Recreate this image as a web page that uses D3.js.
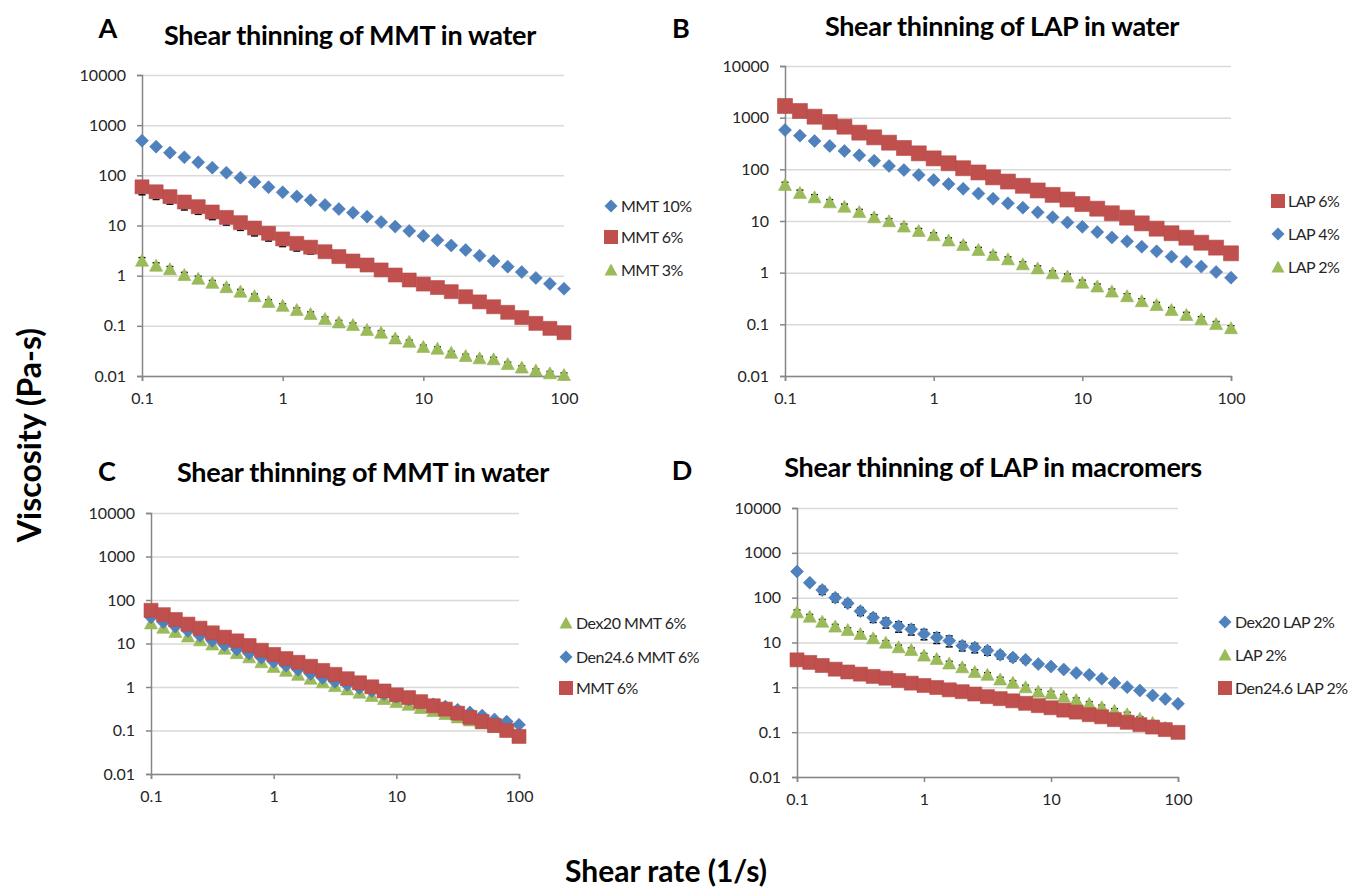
<!DOCTYPE html>
<html>
<head>
<meta charset="utf-8">
<script src="https://cdn.jsdelivr.net/npm/d3@7"></script>
<style>
  body { margin: 0; background: #fff; }
  text { font-family: Lato, "Open Sans", sans-serif; }
</style>
</head>
<body>
<div class="container"></div>
<script>
var w = 1356;
var h = 887;

// shear rate (1/s), 10 points per decade
const shear = [0.1, 0.126, 0.158, 0.2, 0.251, 0.316, 0.398, 0.501, 0.631, 0.794,
  1, 1.26, 1.58, 2, 2.51, 3.16, 3.98, 5.01, 6.31, 7.94,
  10, 12.6, 15.8, 20, 25.1, 31.6, 39.8, 50.1, 63.1, 79.4, 100];

// panel A
const mmt10 = [491, 373, 283, 229, 182, 142, 113, 90, 74, 58, 46, 38, 32, 25.6, 21.3, 18, 15, 11.7, 9.5, 7.8,
  6.2, 5.1, 4.0, 3.25, 2.5, 1.96, 1.51, 1.18, 0.9, 0.69, 0.55];
const mmt6A = [59, 47, 37.6, 29.4, 23.7, 18.6, 14.5, 11.4, 8.9, 7.0, 5.4, 4.4, 3.7, 3.0, 2.4, 1.96, 1.63, 1.3, 1.03, 0.82,
  0.68, 0.58, 0.48, 0.38, 0.3, 0.24, 0.186, 0.146, 0.112, 0.089, 0.073];
const mmt6AErr = [18, 14, 11, 9, 7, 5.5, 4.3, 3.4, 2.7, 2.1, 1.6, 1.3, 1.0, 0.5, 0.35, 0.25, 0.2, 0.15, 0.12, 0.1,
  0.08, 0.06, 0.05, 0.04, 0.03, 0.025, 0.02, 0.015, 0.012, 0.01, 0.008];
const mmt3 = [1.99, 1.58, 1.34, 1.03, 0.87, 0.72, 0.59, 0.48, 0.39, 0.3, 0.25, 0.207, 0.172, 0.137, 0.117, 0.104, 0.083, 0.073, 0.056, 0.048,
  0.038, 0.035, 0.029, 0.025, 0.0225, 0.0215, 0.0173, 0.0147, 0.0128, 0.0113, 0.0105];
const mmt3Err = [0.3, 0.22, 0.18, 0.13, 0.1, 0.08, 0.06, 0.05, 0.04, 0.03, 0.025, 0.02, 0.017, 0.013, 0.011, 0.01, 0.008, 0.007, 0.005, 0.004,
  0.003, 0.003, 0.002, 0.002, 0.002, 0.002, 0.0015, 0.0012, 0.001, 0.001, 0.001];

// panel B
const lap6 = [1683, 1346, 1045, 824, 669, 513, 416, 328, 259, 204, 163, 131, 105, 87, 70, 58, 48, 39, 32, 26,
  21.3, 17.3, 14.1, 11.6, 9.0, 7.1, 5.8, 4.75, 3.8, 3.05, 2.37];
const lap4 = [577, 449, 354, 283, 227, 187, 147, 116, 97, 78, 62, 52, 42, 34, 27, 22, 18.1, 14.7, 11.8, 9.4,
  7.7, 6.1, 4.8, 4.04, 3.18, 2.59, 2.04, 1.63, 1.31, 1.03, 0.8];
const lap2B = [50, 35, 28.7, 23, 18.9, 14.9, 11.8, 9.9, 7.8, 6.4, 5.3, 4.2, 3.43, 2.75, 2.2, 1.81, 1.45, 1.21, 0.97, 0.84,
  0.64, 0.54, 0.43, 0.35, 0.28, 0.237, 0.189, 0.152, 0.125, 0.101, 0.084];
const lap2BErr = [6, 4.5, 3.6, 2.9, 2.3, 1.8, 1.4, 1.2, 0.9, 0.75, 0.6, 0.5, 0.4, 0.32, 0.26, 0.21, 0.17, 0.14, 0.11, 0.1,
  0.075, 0.063, 0.05, 0.04, 0.033, 0.028, 0.022, 0.018, 0.015, 0.012, 0.01];

// panel C
const dex20Mmt6 = [29, 23, 18.5, 14.5, 11.8, 9.5, 7.6, 6.0, 4.8, 3.7, 2.9, 2.35, 1.9, 1.55, 1.28, 1.05, 0.88, 0.74, 0.62, 0.53,
  0.45, 0.39, 0.33, 0.28, 0.24, 0.2, 0.17, 0.145, 0.12, 0.1, 0.085];
const den246Mmt6 = [40, 31, 24.5, 19.5, 15, 11.5, 9.2, 7.3, 5.9, 4.7, 3.8, 3.1, 2.5, 2.0, 1.62, 1.32, 1.12, 0.95, 0.81, 0.69,
  0.6, 0.52, 0.46, 0.4, 0.355, 0.3, 0.26, 0.22, 0.18, 0.16, 0.135];
const mmt6C = [58, 46, 35.6, 27.9, 22.5, 17.6, 14, 11.5, 9.0, 7.0, 5.6, 4.5, 3.7, 3.0, 2.4, 1.95, 1.55, 1.25, 1.01, 0.81,
  0.66, 0.57, 0.46, 0.37, 0.31, 0.25, 0.2, 0.16, 0.13, 0.1, 0.073];

// panel D
const dex20Lap2 = [382, 216, 148, 100, 75, 50, 36, 28, 23, 19.7, 15.5, 13, 11, 8.5, 7.7, 6.6, 5.3, 4.6, 4.1, 3.3,
  2.9, 2.5, 2.1, 1.9, 1.56, 1.25, 1.01, 0.85, 0.66, 0.55, 0.43];
const dex20Lap2Err = [20, 25, 30, 20, 14, 10, 8, 7, 6, 5, 4, 3.5, 3, 2, 1.8, 1.4, 1, 0.8, 0.6, 0.4,
  0.3, 0.25, 0.2, 0.15, 0.12, 0.1, 0.08, 0.06, 0.05, 0.04, 0.03];
const lap2D = [47, 37.7, 29, 22.6, 19, 15.5, 12.4, 9.9, 7.8, 6.8, 5.1, 4.3, 3.4, 2.8, 2.2, 1.9, 1.5, 1.27, 1.0, 0.8,
  0.73, 0.62, 0.52, 0.43, 0.36, 0.3, 0.25, 0.2, 0.16, 0.125, 0.096];
const lap2DErr = [6, 4.5, 3.5, 2.7, 2.2, 1.8, 1.4, 1.1, 0.9, 0.75, 0.6, 0.5, 0.4, 0.32, 0.26, 0.22, 0.17, 0.14, 0.11, 0.09,
  0.08, 0.07, 0.06, 0.05, 0.04, 0.033, 0.027, 0.022, 0.018, 0.014, 0.011];
const den246Lap2 = [4.1, 3.6, 3.07, 2.54, 2.2, 1.97, 1.75, 1.6, 1.42, 1.24, 1.1, 0.99, 0.88, 0.8, 0.71, 0.62, 0.56, 0.5, 0.44, 0.39,
  0.35, 0.31, 0.28, 0.245, 0.22, 0.19, 0.166, 0.147, 0.13, 0.114, 0.099];

const yTicks = [0.01, 0.1, 1, 10, 100, 1000, 10000];
const xTicks = [0.1, 1, 10, 100];

const blue = "#4f81bd", red = "#c0504d", green = "#9bbb59";

const panels = [
  { letter: "A", title: "Shear thinning of MMT in water",
    x0: 142, x1: 564, yTop: 75, yBot: 376, lx: 108, ly: 38, tx: 350, ty: 45, legX: 611, legY: [206, 237, 270],
    series: [
      { name: "MMT 10%", values: mmt10, shape: "diamond", color: blue },
      { name: "MMT 6%", values: mmt6A, err: mmt6AErr, shape: "square", color: red },
      { name: "MMT 3%", values: mmt3, err: mmt3Err, shape: "triangle", color: green }
    ] },
  { letter: "B", title: "Shear thinning of LAP in water",
    x0: 785, x1: 1231, yTop: 66, yBot: 376, lx: 681, ly: 38, tx: 1002, ty: 36, legX: 1278, legY: [201, 234, 267],
    series: [
      { name: "LAP 6%", values: lap6, shape: "square", color: red, big: true },
      { name: "LAP 4%", values: lap4, shape: "diamond", color: blue },
      { name: "LAP 2%", values: lap2B, err: lap2BErr, shape: "triangle", color: green }
    ] },
  { letter: "C", title: "Shear thinning of MMT in water",
    x0: 151, x1: 519, yTop: 513, yBot: 774, lx: 107, ly: 481, tx: 363, ty: 482, legX: 566, legY: [623, 657, 688],
    series: [
      { name: "Dex20 MMT 6%", values: dex20Mmt6, shape: "triangle", color: green },
      { name: "Den24.6 MMT 6%", values: den246Mmt6, shape: "diamond", color: blue },
      { name: "MMT 6%", values: mmt6C, shape: "square", color: red }
    ] },
  { letter: "D", title: "Shear thinning of LAP in macromers",
    x0: 797, x1: 1178, yTop: 508, yBot: 777, lx: 682, ly: 480, tx: 993, ty: 477, legX: 1225, legY: [622, 655, 688],
    series: [
      { name: "Dex20 LAP 2%", values: dex20Lap2, err: dex20Lap2Err, shape: "diamond", color: blue },
      { name: "LAP 2%", values: lap2D, err: lap2DErr, shape: "triangle", color: green },
      { name: "Den24.6 LAP 2%", values: den246Lap2, shape: "square", color: red }
    ] }
];

function markerPath(shape, big) {
  if (shape === "diamond") return "M0,-6.5L6.5,0L0,6.5L-6.5,0Z";
  if (shape === "square") { var s = big ? 7.5 : 7; return `M${-s},${-s}H${s}V${s}H${-s}Z`; }
  return "M0,-6.5L6.5,5.5L-6.5,5.5Z";
}

var svg = d3.select(".container").append("svg")
  .attr("width", w).attr("height", h).attr("viewBox", `0 0 ${w} ${h}`);

svg.append("rect").attr("width", w).attr("height", h).attr("fill", "#fff");

panels.forEach(function (p) {
  var x = d3.scaleLog().domain([0.1, 100]).range([p.x0, p.x1]);
  var y = d3.scaleLog().domain([0.01, 10000]).range([p.yBot, p.yTop]);
  var g = svg.append("g");

  // gridlines
  g.append("g")
    .attr("transform", `translate(${p.x0},0)`)
    .call(d3.axisLeft(y).tickValues(yTicks).tickSize(-(p.x1 - p.x0)).tickFormat(""))
    .call(s => s.select(".domain").remove())
    .selectAll("line").attr("stroke", "#d9d9d9").attr("stroke-width", 1.5);

  // y axis
  g.append("g")
    .attr("transform", `translate(${p.x0},0)`)
    .call(d3.axisLeft(y).tickValues(yTicks).tickSizeOuter(0).tickSize(5).tickPadding(11).tickFormat(d => String(d)))
    .call(s => s.select(".domain").attr("stroke", "#868686").attr("stroke-width", 1.5))
    .call(s => s.selectAll(".tick line").attr("stroke", "#868686").attr("stroke-width", 1.5))
    .call(s => s.selectAll("text").attr("font-size", 16).attr("fill", "#262626").attr("font-family", "Lato"));

  // x axis
  g.append("g")
    .attr("transform", `translate(0,${p.yBot})`)
    .call(d3.axisBottom(x).tickValues(xTicks).tickSizeOuter(0).tickSize(5).tickPadding(12).tickFormat(d => String(d)))
    .call(s => s.select(".domain").attr("stroke", "#868686").attr("stroke-width", 1.5))
    .call(s => s.selectAll(".tick line").attr("stroke", "#868686").attr("stroke-width", 1.5))
    .call(s => s.selectAll("text").attr("font-size", 16).attr("fill", "#262626").attr("font-family", "Lato"));

  // error bars
  p.series.forEach(function (ser) {
    if (!ser.err) return;
    var eg = g.append("g").attr("stroke", "#000").attr("stroke-width", 1);
    ser.values.forEach(function (v, i) {
      var lo = Math.max(v - ser.err[i], 0.005);
      var hi = v + ser.err[i];
      var cx = x(shear[i]);
      eg.append("line").attr("x1", cx).attr("x2", cx).attr("y1", y(lo)).attr("y2", y(hi));
      eg.append("line").attr("x1", cx - 3.5).attr("x2", cx + 3.5).attr("y1", y(lo)).attr("y2", y(lo)).attr("stroke-width", 1.5);
      eg.append("line").attr("x1", cx - 3.5).attr("x2", cx + 3.5).attr("y1", y(hi)).attr("y2", y(hi)).attr("stroke-width", 1.5);
    });
  });

  // markers
  p.series.forEach(function (ser) {
    g.append("g").selectAll("path")
      .data(ser.values)
      .enter()
      .append("path")
      .attr("d", markerPath(ser.shape, ser.big))
      .attr("transform", (d, i) => `translate(${x(shear[i])},${y(d)})`)
      .attr("fill", ser.color)
      .attr("stroke", d3.color(ser.color).darker(0.15))
      .attr("stroke-width", 0.6);
  });

  // legend
  p.series.forEach(function (ser, i) {
    var ly = p.legY[i];
    svg.append("path")
      .attr("d", markerPath(ser.shape, false))
      .attr("transform", `translate(${p.legX},${ly})`)
      .attr("fill", ser.color);
    svg.append("text")
      .attr("x", p.legX + 10)
      .attr("y", ly + 6)
      .attr("font-size", 16)
      .attr("letter-spacing", -0.5)
      .attr("fill", "#262626")
      .text(ser.name);
  });

  // panel letter and title
  svg.append("text")
    .attr("x", p.lx).attr("y", p.ly)
    .attr("text-anchor", "middle")
    .attr("font-size", 27).attr("font-weight", "bold")
    .text(p.letter);

  svg.append("text")
    .attr("x", p.tx).attr("y", p.ty)
    .attr("text-anchor", "middle")
    .attr("font-size", 27).attr("font-weight", "bold")
    .attr("letter-spacing", -0.3)
    .text(p.title);
});

// shared axis titles
svg.append("text")
  .attr("transform", "translate(41,435) rotate(-90)")
  .attr("text-anchor", "middle")
  .attr("font-size", 32).attr("font-weight", "bold")
  .text("Viscosity (Pa-s)");

svg.append("text")
  .attr("x", 666).attr("y", 882)
  .attr("text-anchor", "middle")
  .attr("font-size", 30).attr("font-weight", "bold")
  .text("Shear rate (1/s)");
</script>
</body>
</html>
